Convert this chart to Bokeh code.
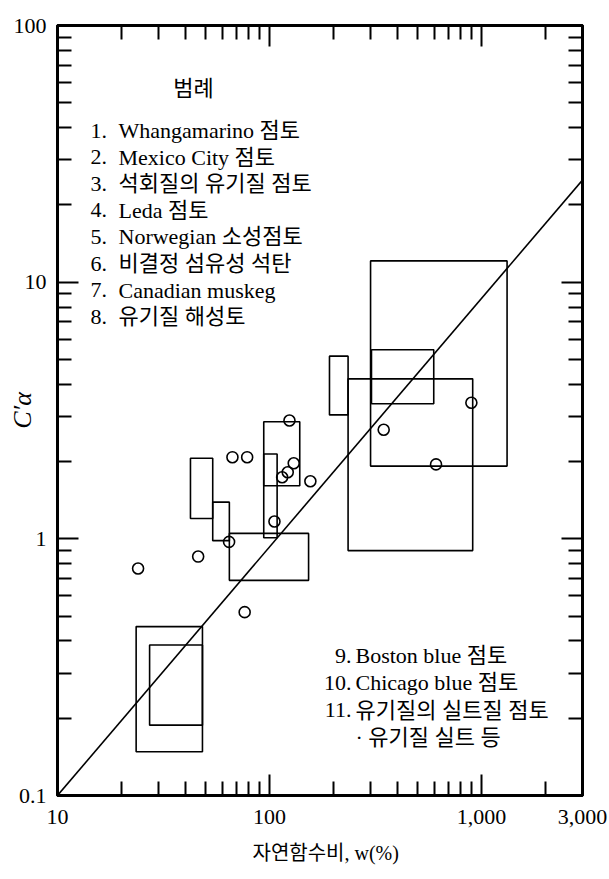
from bokeh.plotting import figure
from bokeh.models import FixedTicker, LogAxis, Label, Range1d, Title
from bokeh.embed import file_html
from bokeh.resources import INLINE

# ---------------- data ----------------
x_major = [10, 100, 1000, 3000]
x_major_labels = ["10", "100", "1,000", "3,000"]
x_minor = [20, 30, 40, 50, 60, 70, 80, 90, 200, 300, 400, 500, 600, 700, 800, 900, 2000]
y_major = [0.1, 1, 10, 100]
y_major_labels = ["0.1", "1", "10", "100"]
y_minor = [0.2, 0.3, 0.4, 0.5, 0.6, 0.7, 0.8, 0.9, 2, 3, 4, 5, 6, 7, 8, 9, 20, 30, 40, 50, 60, 70, 80, 90]

box_left = [23.5, 27.2, 42.4, 54.0, 64.7, 94.0, 94.0, 192, 235, 300, 303]
box_right = [48.3, 48.3, 54.0, 64.7, 153, 108.7, 139, 235, 910, 1322, 596]
box_bottom = [0.148, 0.188, 1.20, 0.984, 0.689, 1.01, 1.61, 3.04, 0.90, 1.92, 3.36]
box_top = [0.455, 0.386, 2.06, 1.39, 1.05, 2.14, 2.86, 5.15, 4.2, 12.1, 5.45]

pt_x = [24.0, 46.1, 64.5, 66.9, 78.5, 76.4, 105.6, 124.3, 114.8, 122, 130.2, 156, 897, 346, 611]
pt_y = [0.766, 0.853, 0.973, 2.08, 2.08, 0.518, 1.168, 2.89, 1.738, 1.817, 1.97, 1.676, 3.39, 2.66, 1.95]

line_x = [10, 3000]
line_y = [0.1, 25]

x_title = "자연함수비, w(%)"
y_title = "C′α"

legend_title = "범례"
legend1_nums = ["1.", "2.", "3.", "4.", "5.", "6.", "7.", "8."]
legend1_texts = ["Whangamarino 점토", "Mexico City 점토", "석회질의 유기질 점토", "Leda 점토",
                 "Norwegian 소성점토", "비결정 섬유성 석탄", "Canadian muskeg", "유기질 해성토"]
legend2_nums = ["9.", "10.", "11.", ""]
legend2_texts = ["Boston blue 점토", "Chicago blue 점토", "유기질의 실트질 점토", "· 유기질 실트 등"]

FONT = "Liberation Serif, Noto Sans CJK KR"

# ---------------- figure ----------------
p = figure(width=609, height=879, x_axis_type="log", y_axis_type="log",
           x_range=Range1d(10, 3000), y_range=Range1d(0.1, 100),
           output_backend="svg", toolbar_location=None,
           min_border_left=57, min_border_right=27, min_border_top=25, min_border_bottom=84)
p.grid.visible = False
p.outline_line_color = "black"
p.outline_line_width = 3
p.background_fill_color = "white"
p.border_fill_color = "white"


def style_axis(ax, ticker, labels=None, standoff=12):
    ax.ticker = ticker
    ax.axis_line_width = 3
    ax.axis_line_color = "black"
    ax.major_tick_in = 21
    ax.major_tick_out = 0
    ax.minor_tick_in = 14
    ax.minor_tick_out = 0
    ax.major_tick_line_width = 2
    ax.minor_tick_line_width = 2
    ax.major_tick_line_color = "black"
    ax.minor_tick_line_color = "black"
    ax.axis_label = None
    if labels is None:
        ax.major_label_text_color = None
        ax.major_label_standoff = 0
    else:
        ax.major_label_overrides = {t: s for t, s in zip(ticker.ticks, labels)}
        ax.major_label_text_font = FONT
        ax.major_label_text_font_size = "22px"
        ax.major_label_text_color = "black"
        ax.major_label_standoff = standoff


xt = FixedTicker(ticks=x_major, minor_ticks=x_minor)
yt = FixedTicker(ticks=y_major, minor_ticks=y_minor)
style_axis(p.xaxis[0], xt, x_major_labels, standoff=14)
style_axis(p.yaxis[0], yt, y_major_labels, standoff=11)

# y axis title (rotated, italic)
ya = p.yaxis[0]
ya.axis_label = y_title
ya.axis_label_text_font = "Liberation Serif"
ya.axis_label_text_font_style = "italic"
ya.axis_label_text_font_size = "26px"
ya.axis_label_text_color = "black"
ya.axis_label_standoff = -26

top_ax = LogAxis()
right_ax = LogAxis()
style_axis(top_ax, FixedTicker(ticks=x_major, minor_ticks=x_minor))
style_axis(right_ax, FixedTicker(ticks=y_major, minor_ticks=y_minor))
p.add_layout(top_ax, "above")
p.add_layout(right_ax, "right")

# x axis title as a positioned title below the axis
p.add_layout(Title(text=x_title, align="left", offset=195, standoff=27,
                   text_font=FONT, text_font_size="20px", text_font_style="normal",
                   text_color="black"), "below")

# ---------------- marks ----------------
p.quad(left=box_left, right=box_right, bottom=box_bottom, top=box_top,
       fill_color=None, line_color="black", line_width=1.6)
p.line(line_x, line_y, line_color="black", line_width=1.6)
p.scatter(pt_x, pt_y, marker="circle", size=11, fill_color=None,
          line_color="black", line_width=1.6)

# ---------------- texts ----------------
def lab(text, x, y, size="22px", align="left"):
    p.add_layout(Label(x=x, y=y, x_units="screen", y_units="screen", text=text,
                       text_font=FONT, text_font_size=size, text_align=align,
                       text_baseline="middle", text_color="black"))

lab(legend_title, 136, 707, align="center")
for i, (n, t) in enumerate(zip(legend1_nums, legend1_texts)):
    yy = 665 - i * 26.6
    lab(n, 33, yy)
    lab(t, 61, yy)

for i, (n, t) in enumerate(zip(legend2_nums, legend2_texts)):
    yy = 140 - i * 27.3
    if n:
        lab(n, 294, yy, align="right")
    lab(t, 298, yy)

open("out.html", "w").write(file_html(p, INLINE))
